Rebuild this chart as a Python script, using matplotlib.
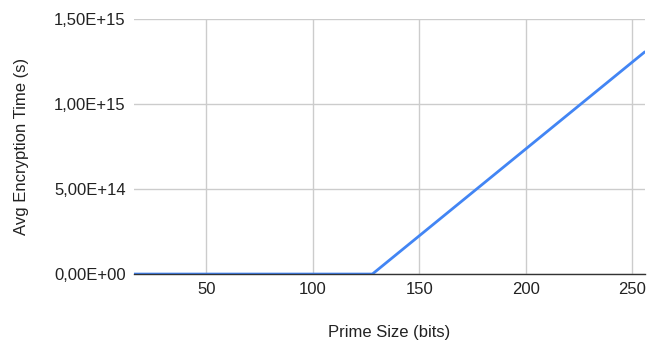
import matplotlib
matplotlib.use("Agg")
import matplotlib.pyplot as plt
from matplotlib.ticker import FuncFormatter

plt.rcParams["font.family"] = ["Liberation Sans", "DejaVu Sans"]

# Data
prime_bits = [16, 32, 64, 128, 256]
avg_time = [0.0, 0.0, 0.0, 0.0, 1.306e15]

x_ticks = [50, 100, 150, 200, 250]
y_ticks = [0, 5e14, 1e15, 1.5e15]

fig = plt.figure(figsize=(6.6, 3.43), dpi=100)
ax = fig.add_axes([0.203, 0.201, 0.774, 0.744])

ax.plot(prime_bits, avg_time, color="#4285F4", linewidth=2, solid_capstyle="round", zorder=3)

ax.set_xlim(16, 256)
ax.set_ylim(0, 1.5e15)
ax.set_xticks(x_ticks)
ax.set_yticks(y_ticks)
ax.yaxis.set_major_formatter(FuncFormatter(lambda v, p: f"{v:.2E}".replace(".", ",")))

ax.grid(True, color="#cccccc", linewidth=1)
ax.set_axisbelow(True)
for side in ["top", "right", "left"]:
    ax.spines[side].set_visible(False)
ax.spines["bottom"].set_color("#333333")
ax.spines["bottom"].set_linewidth(1)
ax.spines["bottom"].set_zorder(4)
ax.tick_params(length=0, labelsize=12, colors="#222222", pad=6)

ax.set_xlabel("Prime Size (bits)", fontsize=12, color="#222222", labelpad=20)
ax.set_ylabel("Avg Encryption Time (s)", fontsize=12, color="#222222", labelpad=18)

fig.savefig("out.png", dpi=100, facecolor="white")
